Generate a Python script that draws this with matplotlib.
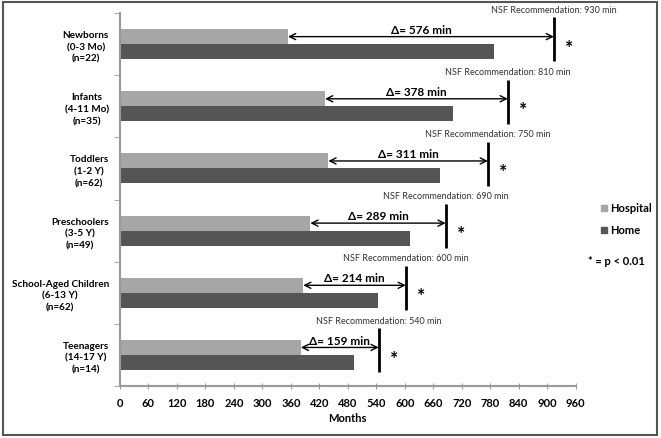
import matplotlib
matplotlib.use("Agg")
import matplotlib.pyplot as plt
from matplotlib.patches import Rectangle
from matplotlib.lines import Line2D

plt.rcParams['font.family'] = ['Lato', 'DejaVu Sans']

categories = ["Newborns\n(0-3 Mo)\n(n=22)", "Infants\n(4-11 Mo)\n(n=35)",
              "Toddlers\n(1-2 Y)\n(n=62)", "Preschoolers\n(3-5 Y)\n(n=49)",
              "School-Aged Children\n(6-13 Y)\n(n=62)", "Teenagers\n(14-17 Y)\n(n=14)"]
hospital = [354, 432, 439, 401, 386, 381]
home = [787, 702, 675, 610, 544, 494]
nsf_rec = [930, 810, 750, 690, 600, 540]
nsf_line_x = [914, 817, 775, 686, 602, 545]
delta = [576, 378, 311, 289, 214, 159]
xticks = list(range(0, 961, 60))

light = "#a6a6a6"
dark = "#555555"

fig = plt.figure(figsize=(6.61, 4.39), dpi=100)
ax = fig.add_axes([120/661, 1-387/439, (575.7-120)/661, (387-14)/439])

n = len(categories)
ys = list(range(n))
bh = 0.24
ax.barh([y - bh/2 for y in ys], hospital, height=bh, color=light, label="Hospital")
ax.barh([y + bh/2 for y in ys], home, height=bh, color=dark, label="Home")

for i in ys:
    lx = nsf_line_x[i]
    ax.plot([lx, lx], [i - 0.43, i + 0.28], color="black", lw=2, solid_capstyle="butt", clip_on=False)
    ay = i - bh/2
    ax.annotate("", xy=(hospital[i], ay), xytext=(lx, ay),
                arrowprops=dict(arrowstyle="<->", lw=1, color="black", shrinkA=0, shrinkB=0,
                                mutation_scale=11))
    ax.text((hospital[i] + lx)/2, ay - 0.03, f"Δ= {delta[i]} min", ha="center", va="bottom",
            fontsize=8.5, fontweight="bold")
    ax.text(lx, i - 0.56, f"NSF Recommendation: {nsf_rec[i]} min", ha="center", va="center",
            fontsize=6.5, color="#333333", clip_on=False)
    ax.text(lx + 32, i + 0.05, "*", ha="center", va="center", fontsize=14, fontweight="bold")

ax.set_xlim(0, 960)
ax.set_ylim(n - 0.5, -0.5)
ax.set_xticks(xticks)
ax.set_xticklabels([str(t) for t in xticks], fontweight="bold", fontsize=8)
ax.set_yticks(ys)
ax.set_yticklabels(categories, fontweight="bold", fontsize=7.2, multialignment="center",
                   linespacing=1.4)
ax.set_yticks([y + 0.5 for y in range(-1, n)], minor=True)
ax.tick_params(axis="y", which="major", length=0, pad=8)
ax.tick_params(axis="y", which="minor", length=4, color="#999999")
ax.tick_params(axis="x", length=4, direction="inout", color="#999999", pad=6)
ax.set_xlabel("Months", fontweight="bold", fontsize=8, labelpad=3)
for s in ["top", "right"]:
    ax.spines[s].set_visible(False)
for s in ["left", "bottom"]:
    ax.spines[s].set_color("#999999")
    ax.spines[s].set_linewidth(1.5)

# legend
for (lab, col, py) in [("Hospital", light, 209), ("Home", dark, 231)]:
    fig.add_artist(Line2D([604/661], [1 - py/439], marker="s", markersize=5, color=col,
                          linestyle="none", transform=fig.transFigure))
    fig.text(610/661, 1 - py/439, lab, fontsize=8, fontweight="bold", va="center", ha="left")
fig.text(616/661, 1 - 262/439, "* = p < 0.01", fontsize=8, fontweight="bold", va="center", ha="center")

fig.add_artist(Rectangle((3/661, 3/439), 654/661, 433/439, transform=fig.transFigure,
                         fill=False, edgecolor="#555555", lw=1.5))

fig.savefig("out.png", dpi=100)
